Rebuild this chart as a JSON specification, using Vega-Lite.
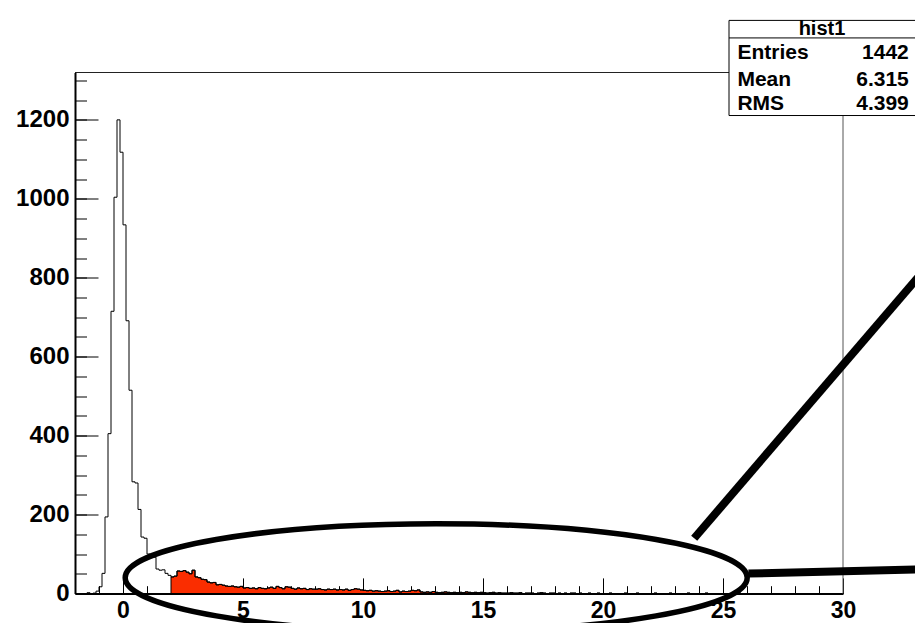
{
  "$schema": "https://vega.github.io/schema/vega-lite/v6.json",
  "width": 768,
  "height": 521,
  "autosize": {"type": "none"},
  "padding": {"left": 75, "top": 72.5, "right": 72, "bottom": 29.5},
  "background": "white",
  "config": {
    "view": {"stroke": null},
    "font": "Liberation Sans",
    "axis": {"grid": false, "labelFont": "Liberation Sans", "labelFontWeight": "bold", "labelFontSize": 24, "labelColor": "#000", "tickColor": "#000", "domainColor": "#000", "labelOverlap": false, "labelFlush": false, "labelBound": false, "zindex": 1}
  },
  "datasets": {
    "hist": [
      {"x":-2,"y":0},{"x":-1.875,"y":0},{"x":-1.75,"y":0},{"x":-1.625,"y":0},{"x":-1.5,"y":2},{"x":-1.375,"y":0},{"x":-1.25,"y":1},{"x":-1.125,"y":6},
      {"x":-1,"y":17},{"x":-0.875,"y":51},{"x":-0.75,"y":194},{"x":-0.625,"y":405},{"x":-0.5,"y":715},{"x":-0.375,"y":1004},{"x":-0.25,"y":1200},{"x":-0.125,"y":1118},
      {"x":0,"y":934},{"x":0.125,"y":691},{"x":0.25,"y":515},{"x":0.375,"y":283},{"x":0.5,"y":280},{"x":0.625,"y":213},{"x":0.75,"y":143},{"x":0.875,"y":140},
      {"x":1,"y":100},{"x":1.125,"y":95},{"x":1.25,"y":92},{"x":1.375,"y":62},{"x":1.5,"y":59},{"x":1.625,"y":60},{"x":1.75,"y":51},{"x":1.875,"y":46},
      {"x":2,"y":42},{"x":2.125,"y":44},{"x":2.25,"y":57},{"x":2.375,"y":56},{"x":2.5,"y":58},{"x":2.625,"y":54},{"x":2.75,"y":50},{"x":2.875,"y":59},
      {"x":3,"y":42},{"x":3.125,"y":40},{"x":3.25,"y":36},{"x":3.375,"y":35},{"x":3.5,"y":29},{"x":3.625,"y":27},{"x":3.75,"y":28},{"x":3.875,"y":22},
      {"x":4,"y":23},{"x":4.125,"y":21},{"x":4.25,"y":19},{"x":4.375,"y":18},{"x":4.5,"y":19},{"x":4.625,"y":17},{"x":4.75,"y":16},{"x":4.875,"y":18},
      {"x":5,"y":14},{"x":5.125,"y":15},{"x":5.25,"y":13},{"x":5.375,"y":14},{"x":5.5,"y":12},{"x":5.625,"y":15},{"x":5.75,"y":13},{"x":5.875,"y":12},
      {"x":6,"y":14},{"x":6.125,"y":16},{"x":6.25,"y":13},{"x":6.375,"y":18},{"x":6.5,"y":15},{"x":6.625,"y":12},{"x":6.75,"y":17},{"x":6.875,"y":16},
      {"x":7,"y":13},{"x":7.125,"y":11},{"x":7.25,"y":14},{"x":7.375,"y":12},{"x":7.5,"y":13},{"x":7.625,"y":10},{"x":7.75,"y":12},{"x":7.875,"y":11},
      {"x":8,"y":11},{"x":8.125,"y":12},{"x":8.25,"y":10},{"x":8.375,"y":9},{"x":8.5,"y":11},{"x":8.625,"y":10},{"x":8.75,"y":11},{"x":8.875,"y":9},
      {"x":9,"y":10},{"x":9.125,"y":9},{"x":9.25,"y":11},{"x":9.375,"y":8},{"x":9.5,"y":10},{"x":9.625,"y":12},{"x":9.75,"y":11},{"x":9.875,"y":9},
      {"x":10,"y":8},{"x":10.125,"y":7},{"x":10.25,"y":8},{"x":10.375,"y":6},{"x":10.5,"y":7},{"x":10.625,"y":6},{"x":10.75,"y":5},{"x":10.875,"y":6},
      {"x":11,"y":7},{"x":11.125,"y":5},{"x":11.25,"y":6},{"x":11.375,"y":8},{"x":11.5,"y":4},{"x":11.625,"y":6},{"x":11.75,"y":5},{"x":11.875,"y":6},
      {"x":12,"y":8},{"x":12.125,"y":7},{"x":12.25,"y":9},{"x":12.375,"y":4},{"x":12.5,"y":3},{"x":12.625,"y":4},{"x":12.75,"y":3},{"x":12.875,"y":5},
      {"x":13,"y":3},{"x":13.125,"y":2},{"x":13.25,"y":3},{"x":13.375,"y":4},{"x":13.5,"y":3},{"x":13.625,"y":2},{"x":13.75,"y":3},{"x":13.875,"y":2},
      {"x":14,"y":3},{"x":14.125,"y":2},{"x":14.25,"y":4},{"x":14.375,"y":3},{"x":14.5,"y":2},{"x":14.625,"y":3},{"x":14.75,"y":2},{"x":14.875,"y":3},
      {"x":15,"y":2},{"x":15.125,"y":1},{"x":15.25,"y":2},{"x":15.375,"y":3},{"x":15.5,"y":1},{"x":15.625,"y":2},{"x":15.75,"y":1},{"x":15.875,"y":1},
      {"x":16,"y":1},{"x":16.125,"y":2},{"x":16.25,"y":1},{"x":16.375,"y":1},{"x":16.5,"y":2},{"x":16.625,"y":0},{"x":16.75,"y":1},{"x":16.875,"y":1},
      {"x":17,"y":1},{"x":17.125,"y":0},{"x":17.25,"y":1},{"x":17.375,"y":2},{"x":17.5,"y":1},{"x":17.625,"y":0},{"x":17.75,"y":1},{"x":17.875,"y":1},
      {"x":18,"y":0},{"x":18.125,"y":1},{"x":18.25,"y":0},{"x":18.375,"y":1},{"x":18.5,"y":0},{"x":18.625,"y":1},{"x":18.75,"y":1},{"x":18.875,"y":0},
      {"x":19,"y":1},{"x":19.125,"y":0},{"x":19.25,"y":0},{"x":19.375,"y":1},{"x":19.5,"y":0},{"x":19.625,"y":0},{"x":19.75,"y":1},{"x":19.875,"y":0},
      {"x":20,"y":0},{"x":20.125,"y":0},{"x":20.25,"y":1},{"x":20.375,"y":0},{"x":20.5,"y":0},{"x":20.625,"y":0},{"x":20.75,"y":0},{"x":20.875,"y":1},
      {"x":21,"y":0},{"x":21.125,"y":0},{"x":21.25,"y":0},{"x":21.375,"y":1},{"x":21.5,"y":0},{"x":21.625,"y":0},{"x":21.75,"y":0},{"x":21.875,"y":0},
      {"x":22,"y":0},{"x":22.125,"y":1},{"x":22.25,"y":0},{"x":22.375,"y":0},{"x":22.5,"y":0},{"x":22.625,"y":0},{"x":22.75,"y":1},{"x":22.875,"y":0},
      {"x":23,"y":0},{"x":23.125,"y":0},{"x":23.25,"y":0},{"x":23.375,"y":0},{"x":23.5,"y":1},{"x":23.625,"y":0},{"x":23.75,"y":0},{"x":23.875,"y":0},
      {"x":24,"y":0},{"x":24.125,"y":0},{"x":24.25,"y":1},{"x":24.375,"y":0},{"x":24.5,"y":0},{"x":24.625,"y":0},{"x":24.75,"y":0},{"x":24.875,"y":0},
      {"x":25,"y":0},{"x":25.125,"y":0},{"x":25.25,"y":0},{"x":25.375,"y":0},{"x":25.5,"y":0},{"x":25.625,"y":1},{"x":25.75,"y":0},{"x":25.875,"y":0},
      {"x":26,"y":0},{"x":26.125,"y":0},{"x":26.25,"y":0},{"x":26.375,"y":0},{"x":26.5,"y":0},{"x":26.625,"y":0},{"x":26.75,"y":0},{"x":26.875,"y":0},
      {"x":27,"y":0},{"x":27.125,"y":0},{"x":27.25,"y":0},{"x":27.375,"y":0},{"x":27.5,"y":0},{"x":27.625,"y":0},{"x":27.75,"y":0},{"x":27.875,"y":0},
      {"x":28,"y":0},{"x":28.125,"y":0},{"x":28.25,"y":0},{"x":28.375,"y":0},{"x":28.5,"y":0},{"x":28.625,"y":0},{"x":28.75,"y":0},{"x":28.875,"y":0},
      {"x":29,"y":0},{"x":29.125,"y":0},{"x":29.25,"y":0},{"x":29.375,"y":0},{"x":29.5,"y":0},{"x":29.625,"y":0},{"x":29.75,"y":0},{"x":29.875,"y":0},
      {"x":30,"y":0}
    ],
    "stats": [
      {"stat": "Entries", "value": "1442"},
      {"stat": "Mean", "value": "6.315"},
      {"stat": "RMS", "value": "4.399"}
    ],
    "title": [{"name": "hist1"}],
    "one": [{}]
  },
  "layer": [
    {
      "data": {"name": "hist"},
      "transform": [{"filter": "datum.x >= 2"}],
      "mark": {"type": "area", "interpolate": "step-after", "color": "#fa2d00", "stroke": "#000", "strokeWidth": 1, "opacity": 1},
      "encoding": {
        "x": {"field": "x", "type": "quantitative", "scale": {"domain": [-2, 30], "nice": false, "zero": false},
              "axis": {"orient": "bottom", "title": null, "values": [-2,-1,0,1,2,3,4,5,6,7,8,9,10,11,12,13,14,15,16,17,18,19,20,21,22,23,24,25,26,27,28,29,30], "tickSize": -7.8, "tickWidth": 1, "domain": false, "labels": false}},
        "y": {"field": "y", "type": "quantitative", "scale": {"domain": [0, 1320], "nice": false, "zero": false},
              "axis": {"orient": "left", "title": null, "values": [0,50,100,150,200,250,300,350,400,450,500,550,600,650,700,750,800,850,900,950,1000,1050,1100,1150,1200,1250,1300], "tickSize": -11.5, "tickWidth": 1, "domain": false, "labels": false}},
        "y2": {"datum": 0}
      }
    },
    {
      "data": {"name": "hist"},
      "mark": {"type": "line", "interpolate": "step-after", "color": "#000", "strokeWidth": 1},
      "encoding": {
        "x": {"field": "x", "type": "quantitative", "scale": {"domain": [-2, 30], "nice": false, "zero": false},
              "axis": {"orient": "bottom", "title": null, "values": [0,5,10,15,20,25,30], "format": "d", "tickSize": -15.6, "tickWidth": 1, "domainWidth": 2, "labelFontSize": 23, "labelPadding": 21.5}},
        "y": {"field": "y", "type": "quantitative", "scale": {"domain": [0, 1320], "nice": false, "zero": false},
              "axis": {"orient": "left", "title": null, "values": [0,200,400,600,800,1000,1200], "format": "d", "tickSize": -23, "tickWidth": 1, "domainWidth": 2, "labelPadding": 29}}
      }
    },
    {
      "data": {"name": "one"},
      "mark": {"type": "rule", "color": "#222", "strokeWidth": 1},
      "encoding": {
        "x": {"datum": -2, "type": "quantitative", "axis": null},
        "x2": {"datum": 30},
        "y": {"datum": 1320, "type": "quantitative", "axis": null}
      }
    },
    {
      "data": {"name": "one"},
      "mark": {"type": "rule", "color": "#555", "strokeWidth": 1},
      "encoding": {
        "x": {"datum": 30, "type": "quantitative", "axis": null},
        "y": {"datum": 0, "type": "quantitative", "axis": null},
        "y2": {"datum": 1320}
      }
    },
    {
      "data": {"name": "one"},
      "mark": {"type": "point", "shape": "M 1 0 C 1 0.0959 0.5523 0.1736 0 0.1736 C -0.5523 0.1736 -1 0.0959 -1 0 C -1 -0.0959 -0.5523 -0.1736 0 -0.1736 C 0.5523 -0.1736 1 -0.0959 1 0 Z", "size": 386884, "filled": false, "stroke": "#000", "strokeWidth": 5.5, "opacity": 1},
      "encoding": {
        "x": {"datum": 13.05, "type": "quantitative", "axis": null},
        "y": {"datum": 40, "type": "quantitative", "axis": null}
      }
    },
    {
      "data": {"name": "one"},
      "mark": {"type": "rule", "color": "#000", "strokeWidth": 8, "strokeCap": "butt"},
      "encoding": {
        "x": {"datum": 23.8, "type": "quantitative", "axis": null},
        "y": {"datum": 140, "type": "quantitative", "axis": null},
        "x2": {"datum": 33.64},
        "y2": {"datum": 837.5}
      }
    },
    {
      "data": {"name": "one"},
      "mark": {"type": "rule", "color": "#000", "strokeWidth": 8, "strokeCap": "butt"},
      "encoding": {
        "x": {"datum": 26.06, "type": "quantitative", "axis": null},
        "y": {"datum": 50.6, "type": "quantitative", "axis": null},
        "x2": {"datum": 33.64},
        "y2": {"datum": 61.8}
      }
    },
    {
      "data": {"name": "one"},
      "mark": {"type": "rect", "fill": "#fff", "stroke": "#000", "strokeWidth": 1},
      "encoding": {
        "x": {"datum": 25.25, "type": "quantitative", "axis": null},
        "x2": {"datum": 33.6},
        "y": {"datum": 1211, "type": "quantitative", "axis": null},
        "y2": {"datum": 1452}
      }
    },
    {
      "data": {"name": "one"},
      "mark": {"type": "rule", "color": "#000", "strokeWidth": 1},
      "encoding": {
        "x": {"datum": 25.25, "type": "quantitative", "axis": null},
        "x2": {"datum": 33.6},
        "y": {"datum": 1407.6, "type": "quantitative", "axis": null}
      }
    },
    {
      "data": {"name": "title"},
      "mark": {"type": "text", "align": "center", "baseline": "alphabetic", "font": "Liberation Sans", "fontWeight": "bold", "fontSize": 20, "color": "#000"},
      "encoding": {
        "x": {"datum": 29.125, "type": "quantitative", "axis": null},
        "y": {"datum": 1415, "type": "quantitative", "axis": null},
        "text": {"field": "name"}
      }
    },
    {
      "data": {"name": "stats"},
      "transform": [{"filter": "datum.stat === 'Entries'"}],
      "encoding": {"y": {"datum": 1354.4, "type": "quantitative", "axis": null}},
      "layer": [
        {"mark": {"type": "text", "align": "left", "baseline": "alphabetic", "font": "Liberation Sans", "fontWeight": "bold", "fontSize": 21, "color": "#000"},
         "encoding": {"x": {"datum": 25.6, "type": "quantitative", "axis": null}, "text": {"field": "stat"}}},
        {"mark": {"type": "text", "align": "right", "baseline": "alphabetic", "font": "Liberation Sans", "fontWeight": "bold", "fontSize": 21, "color": "#000"},
         "encoding": {"x": {"datum": 32.74, "type": "quantitative", "axis": null}, "text": {"field": "value"}}}
      ]
    },
    {
      "data": {"name": "stats"},
      "transform": [{"filter": "datum.stat === 'Mean'"}],
      "encoding": {"y": {"datum": 1286.8, "type": "quantitative", "axis": null}},
      "layer": [
        {"mark": {"type": "text", "align": "left", "baseline": "alphabetic", "font": "Liberation Sans", "fontWeight": "bold", "fontSize": 21, "color": "#000"},
         "encoding": {"x": {"datum": 25.6, "type": "quantitative", "axis": null}, "text": {"field": "stat"}}},
        {"mark": {"type": "text", "align": "right", "baseline": "alphabetic", "font": "Liberation Sans", "fontWeight": "bold", "fontSize": 21, "color": "#000"},
         "encoding": {"x": {"datum": 32.74, "type": "quantitative", "axis": null}, "text": {"field": "value"}}}
      ]
    },
    {
      "data": {"name": "stats"},
      "transform": [{"filter": "datum.stat === 'RMS'"}],
      "encoding": {"y": {"datum": 1225.3, "type": "quantitative", "axis": null}},
      "layer": [
        {"mark": {"type": "text", "align": "left", "baseline": "alphabetic", "font": "Liberation Sans", "fontWeight": "bold", "fontSize": 21, "color": "#000"},
         "encoding": {"x": {"datum": 25.6, "type": "quantitative", "axis": null}, "text": {"field": "stat"}}},
        {"mark": {"type": "text", "align": "right", "baseline": "alphabetic", "font": "Liberation Sans", "fontWeight": "bold", "fontSize": 21, "color": "#000"},
         "encoding": {"x": {"datum": 32.74, "type": "quantitative", "axis": null}, "text": {"field": "value"}}}
      ]
    }
  ],
  "resolve": {"axis": {"x": "independent", "y": "independent"}}
}
